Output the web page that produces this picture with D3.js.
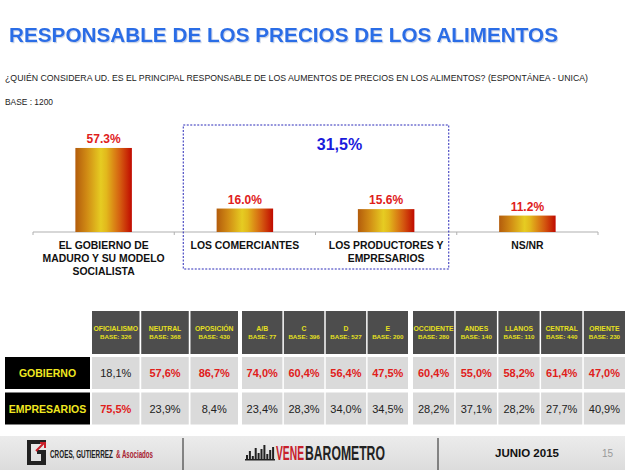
<!DOCTYPE html>
<html><head><meta charset="utf-8">
<script src="https://cdn.jsdelivr.net/npm/d3@7"></script>
<style>
html,body{margin:0;padding:0;background:#fff;}
svg{display:block;font-family:"Liberation Sans",Arial,sans-serif;}
</style></head>
<body>
<svg id="c" width="625" height="470"></svg>
<script>
// ---------- DATA ----------
const title = "RESPONSABLE DE LOS PRECIOS DE LOS ALIMENTOS";
const question = "¿QUIÉN CONSIDERA UD. ES EL PRINCIPAL RESPONSABLE DE LOS AUMENTOS DE PRECIOS EN LOS ALIMENTOS? (ESPONTÁNEA - UNICA)";
const baseText = "BASE : 1200";
const categories = ["EL GOBIERNO DE|MADURO Y SU MODELO|SOCIALISTA", "LOS COMERCIANTES", "LOS PRODUCTORES Y|EMPRESARIOS", "NS/NR"];
const values = [57.3, 16.0, 15.6, 11.2];
const groupedCats = [1, 2];
const groupedLabel = "31,5%";
const yTicks = [0, 60];

const colGroups = [
  ["OFICIALISMO", "NEUTRAL", "OPOSICIÓN"],
  ["A/B", "C", "D", "E"],
  ["OCCIDENTE", "ANDES", "LLANOS", "CENTRAL", "ORIENTE"]
];
const bases = [326, 368, 430, 77, 396, 527, 200, 280, 140, 110, 440, 230];
const rowLabels = ["GOBIERNO", "EMPRESARIOS"];
const gobierno = [18.1, 57.6, 86.7, 74.0, 60.4, 56.4, 47.5, 60.4, 55.0, 58.2, 61.4, 47.0];
const empresarios = [75.5, 23.9, 8.4, 23.4, 28.3, 34.0, 34.5, 28.2, 37.1, 28.2, 27.7, 40.9];
const footerDate = "JUNIO 2015";
const pageNum = "15";

// ---------- DRAW ----------
const svg = d3.select("#c");
const defs = svg.append("defs");
const g = defs.append("linearGradient").attr("id","barGrad").attr("x1","0").attr("x2","1").attr("y1","0").attr("y2","0");
[[0,"#b35c0c"],[0.2,"#d08a14"],[0.45,"#e6cc22"],[0.55,"#e2b81c"],[0.8,"#d45a10"],[1,"#c00a00"]]
  .forEach(([o,c])=>g.append("stop").attr("offset",o).attr("stop-color",c));
const sh = defs.append("filter").attr("id","tsh").attr("x","-5%").attr("y","-30%").attr("width","110%").attr("height","160%");
sh.append("feDropShadow").attr("dx",1).attr("dy",1.2).attr("stdDeviation",0.6).attr("flood-color","#8aa0c8").attr("flood-opacity",0.45);

// fit a text horizontally to a target width by scaling
function fitText(sel, x0, y0, target){
  const w = sel.node().getComputedTextLength();
  sel.attr("x",0).attr("y",0).attr("transform",`translate(${x0},${y0}) scale(${target/w},1)`);
  return sel;
}

// title
svg.append("text").attr("x",9).attr("y",42).attr("fill","#2c6de6").attr("font-size",21).attr("font-weight","bold")
  .attr("filter","url(#tsh)").attr("textLength",549).attr("lengthAdjust","spacingAndGlyphs").text(title);

svg.append("text").attr("x",5).attr("y",80.5).attr("font-size",8.6).attr("fill","#222")
  .attr("textLength",583).attr("lengthAdjust","spacingAndGlyphs").text(question);
svg.append("text").attr("x",5).attr("y",105).attr("font-size",8.6).attr("fill","#222")
  .attr("textLength",48).attr("lengthAdjust","spacingAndGlyphs").text(baseText);

// chart scales
const x = d3.scaleBand().domain(categories).range([33, 598]).padding(0);
const y = d3.scaleLinear().domain(yTicks).range([232, 144]);
const bw = x.bandwidth()*0.4;

// axis
const ax = svg.append("g").attr("transform","translate(0,232)")
  .call(d3.axisBottom(x).tickSize(0).tickFormat(""));
ax.select(".domain").attr("stroke","#b0b0b0").attr("stroke-width",1.2).attr("d","M33,0H598");
const edges = categories.map(c=>x(c)).concat([x(categories[categories.length-1])+x.bandwidth()]);
svg.selectAll("line.tk").data(edges).join("line").attr("class","tk")
  .attr("x1",d=>d).attr("x2",d=>d).attr("y1",232).attr("y2",235).attr("stroke","#b0b0b0");

// dashed group box
const bx0 = x(categories[groupedCats[0]])+9, bx1 = x(categories[groupedCats[1]])+x.bandwidth()-8;
svg.append("rect").attr("x",bx0).attr("y",125).attr("width",bx1-bx0).attr("height",144)
  .attr("fill","none").attr("stroke","#2a2ab8").attr("stroke-width",1).attr("stroke-dasharray","2,1.5");
svg.append("text").attr("x",x(categories[groupedCats[1]])+24).attr("y",150).attr("text-anchor","middle")
  .attr("font-size",16).attr("font-weight","bold").attr("fill","#1a1adc").text(groupedLabel);

// bars
svg.selectAll("rect.bar").data(values).join("rect").attr("class","bar")
  .attr("x",(d,i)=>x(categories[i])+x.bandwidth()/2-bw/2).attr("width",bw)
  .attr("y",d=>y(d)).attr("height",d=>y(0)-y(d)).attr("fill","url(#barGrad)");
svg.selectAll("text.val").data(values).join("text").attr("class","val")
  .attr("x",(d,i)=>x(categories[i])+x.bandwidth()/2).attr("y",d=>y(d)-5)
  .attr("text-anchor","middle").attr("font-size",12).attr("font-weight","bold").attr("fill","#e0201a")
  .text(d=>d.toFixed(1)+"%");
categories.forEach((c,i)=>{
  const t = svg.append("text").attr("text-anchor","middle").attr("font-size",10.4).attr("font-weight","bold").attr("fill","#111");
  c.split("|").forEach((ln,j)=>t.append("tspan").attr("x",x(c)+x.bandwidth()/2).attr("y",249+j*13).text(ln));
});

// ---------- TABLE ----------
const groupRanges = [[92,238],[242,408],[413,625]];
const cols = [];
colGroups.forEach((grp,gi)=>{
  const s = d3.scaleBand().domain(grp).range(groupRanges[gi]).paddingInner(0.035);
  grp.forEach(n=>cols.push({name:n, x:s(n), w:s.bandwidth()}));
});
cols.forEach((c,i)=>{c.base=bases[i]; c.gob=gobierno[i]; c.emp=empresarios[i];});
const fmt = v => v.toFixed(1).replace(".",",")+"%";
const hY=311, hH=43, r1Y=357, rH=33.5, r2Y=392.5;

const tg = svg.append("g");
tg.selectAll("rect.h").data(cols).join("rect").attr("x",d=>d.x).attr("y",hY).attr("width",d=>d.w).attr("height",hH).attr("fill","#4d4d4d");
tg.selectAll("text.h1").data(cols).join("text").attr("x",d=>d.x+d.w/2).attr("y",331).attr("text-anchor","middle")
  .attr("font-size",6.8).attr("font-weight","bold").attr("fill","#e6e020").text(d=>d.name)
  .each(function(d){ if(this.getComputedTextLength()>d.w-1){ d3.select(this).attr("textLength",d.w-1).attr("lengthAdjust","spacingAndGlyphs"); }});
tg.selectAll("text.h2").data(cols).join("text").attr("x",d=>d.x+d.w/2).attr("y",339).attr("text-anchor","middle")
  .attr("font-size",6.2).attr("font-weight","bold").attr("fill","#e6e020").text(d=>"BASE: "+d.base);

[[r1Y,"gob","emp"],[r2Y,"emp","gob"]].forEach(([ry,k,o])=>{
  tg.selectAll("rect.c"+k).data(cols).join("rect").attr("x",d=>d.x).attr("y",ry).attr("width",d=>d.w).attr("height",rH-1.5).attr("fill","#dadada");
  tg.selectAll("text.c"+k).data(cols).join("text").attr("x",d=>d.x+d.w/2).attr("y",ry+rH/2+3.5).attr("text-anchor","middle")
    .attr("font-size",11).attr("font-weight",d=>d[k]>d[o]?"bold":"normal")
    .attr("fill",d=>d[k]>d[o]?"#e0201a":"#222").text(d=>fmt(d[k]));
});
rowLabels.forEach((r,i)=>{
  const ry = i===0?r1Y:r2Y;
  tg.append("rect").attr("x",5).attr("y",ry).attr("width",85).attr("height",rH-1.5).attr("fill","#000");
  tg.append("text").attr("x",47.5).attr("y",ry+rH/2+3.5).attr("text-anchor","middle").attr("font-size",10.5)
    .attr("font-weight","bold").attr("fill","#f0e820").text(r);
});

// ---------- FOOTER ----------
const fg = defs.append("linearGradient").attr("id","ftGrad").attr("x1",0).attr("x2",0).attr("y1",0).attr("y2",1);
fg.append("stop").attr("offset",0).attr("stop-color","#ececec");
fg.append("stop").attr("offset",1).attr("stop-color","#dcdcdc");
svg.append("rect").attr("x",0).attr("y",436).attr("width",625).attr("height",34).attr("fill","url(#ftGrad)");
svg.append("line").attr("x1",183).attr("x2",183).attr("y1",438).attr("y2",470).attr("stroke","#222").attr("stroke-width",1);
svg.append("line").attr("x1",438).attr("x2",438).attr("y1",438).attr("y2",470).attr("stroke","#222").attr("stroke-width",1);
// Croes logo
svg.append("path").attr("d","M27,440H46V444H31V461H41V454H37V450H46V465H27Z").attr("fill","#222");
svg.append("path").attr("d","M36,451L44,443M40,443H45V448").attr("stroke","#c8202a").attr("stroke-width",2).attr("fill","none");
fitText(svg.append("text").attr("font-size",10.5).attr("font-weight","bold").attr("fill","#222").text("CROES, GUTIERREZ"), 50, 458, 63);
fitText(svg.append("text").attr("font-size",10.5).attr("font-weight","bold").attr("fill","#a82030").text("& Asociados"), 116, 458, 37);
// venebarometro
const vb = [5,9,4,12,7,11,15,6,10,13];
svg.selectAll("rect.vb").data(vb).join("rect").attr("class","vb")
  .attr("x",(d,i)=>246+i*2.9).attr("y",d=>460-d).attr("width",2).attr("height",d=>d).attr("fill","#222");
svg.append("rect").attr("x",245).attr("y",459).attr("width",30).attr("height",1.5).attr("fill","#222");
fitText(svg.append("text").attr("font-size",20).attr("font-weight","bold").attr("fill","#c8202a").text("VENE"), 276, 460, 28);
fitText(svg.append("text").attr("font-size",20).attr("font-weight","bold").attr("fill","#222").text("BAROMETRO"), 305, 460, 80);
svg.append("text").attr("x",495).attr("y",457).attr("font-size",11.5).attr("font-weight","bold").attr("fill","#111").text(footerDate);
svg.append("text").attr("x",602).attr("y",457).attr("font-size",10).attr("fill","#999").text(pageNum);
</script>
</body></html>
